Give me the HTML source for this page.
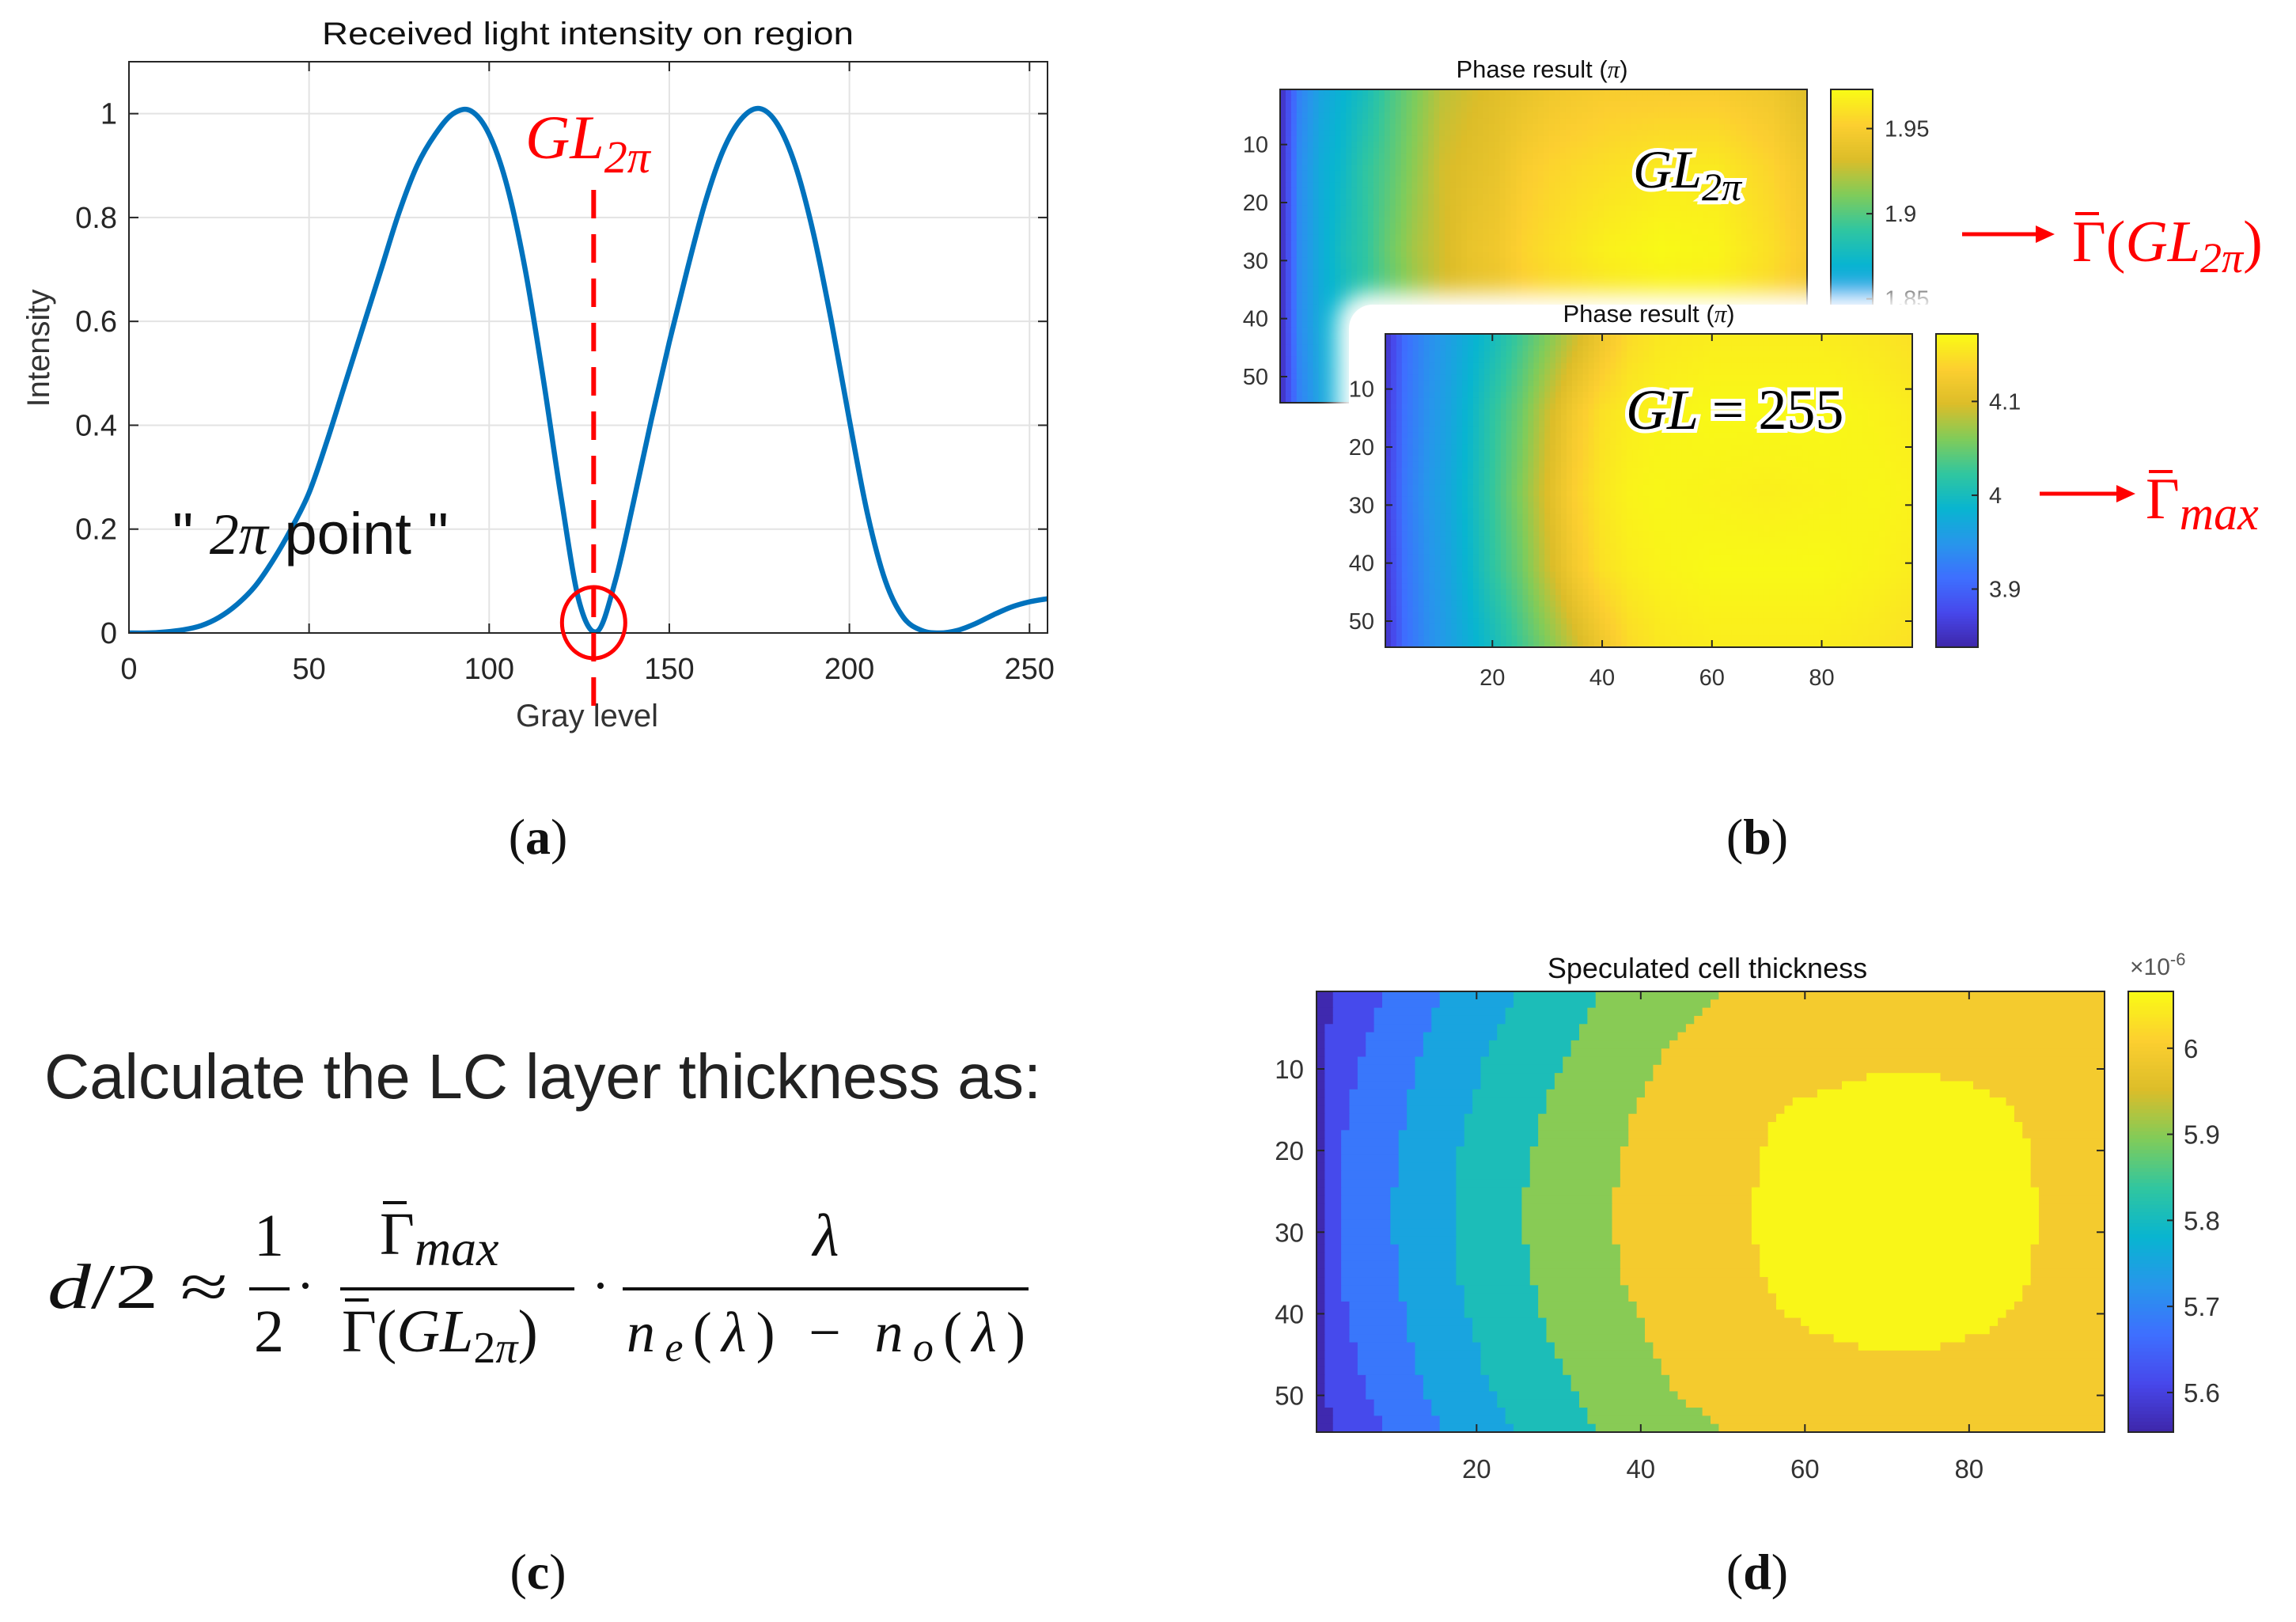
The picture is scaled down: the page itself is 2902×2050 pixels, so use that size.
<!DOCTYPE html>
<html><head><meta charset="utf-8"><style>
html,body{margin:0;padding:0;background:#fff;}
svg{display:block;}
text{font-family:"Liberation Sans",sans-serif;}
.serif{font-family:"Liberation Serif",serif;}
</style></head>
<body>
<svg id="fig" width="2902" height="2050" viewBox="0 0 2902 2050" xmlns="http://www.w3.org/2000/svg">
<defs>
  <filter id="glowBlur" x="-20%" y="-20%" width="140%" height="140%"><feGaussianBlur stdDeviation="14"/></filter>
  <clipPath id="clipA"><rect x="163" y="78" width="1161" height="722"/></clipPath>
</defs>
<g id="panelA"></g>
<g id="panelB"></g>
<g id="panelC">
  <text x="56" y="1388" font-size="80" fill="#222" textLength="1260" lengthAdjust="spacingAndGlyphs">Calculate the LC layer thickness as:</text>
  <text class="serif" x="60" y="1653" font-size="80" font-style="italic" fill="#111" textLength="228" lengthAdjust="spacingAndGlyphs">d<tspan font-style="normal">/2 ≈</tspan></text>
  <text class="serif" x="340" y="1587" font-size="76" text-anchor="middle" fill="#111">1</text>
  <line x1="315" y1="1629" x2="366" y2="1629" stroke="#111" stroke-width="4"/>
  <text class="serif" x="340" y="1708" font-size="76" text-anchor="middle" fill="#111">2</text>
  <circle cx="386" cy="1625" r="4" fill="#111"/>
  <text class="serif" x="480" y="1585" font-size="76" fill="#111">Γ<tspan font-style="italic" font-size="64" dy="14">max</tspan></text>
  <line x1="484" y1="1520" x2="514" y2="1520" stroke="#111" stroke-width="4"/>
  <line x1="430" y1="1629" x2="726" y2="1629" stroke="#111" stroke-width="4"/>
  <text class="serif" x="432" y="1708" font-size="76" fill="#111">Γ(<tspan font-style="italic">GL</tspan><tspan font-size="56" dy="14">2</tspan><tspan font-size="56" font-style="italic">π</tspan><tspan dy="-14">)</tspan></text>
  <line x1="436" y1="1643" x2="466" y2="1643" stroke="#111" stroke-width="4"/>
  <circle cx="759" cy="1625" r="4" fill="#111"/>
  <text class="serif" x="1044" y="1587" font-size="76" font-style="italic" text-anchor="middle" fill="#111">λ</text>
  <line x1="787" y1="1629" x2="1300" y2="1629" stroke="#111" stroke-width="4"/>
  <text class="serif" x="792" y="1708" font-size="72" fill="#111" textLength="504" lengthAdjust="spacing"><tspan font-style="italic">n</tspan><tspan font-style="italic" font-size="52" dy="12">e</tspan><tspan dy="-12">(</tspan><tspan font-style="italic">λ</tspan>) − <tspan font-style="italic">n</tspan><tspan font-style="italic" font-size="52" dy="12">o</tspan><tspan dy="-12">(</tspan><tspan font-style="italic">λ</tspan>)</text>
</g>
<g id="panelD"></g>
<g>
  <text class="serif" x="680" y="1079" font-size="64" text-anchor="middle" fill="#111">(<tspan font-weight="bold">a</tspan>)</text>
  <text class="serif" x="2221" y="1079" font-size="64" text-anchor="middle" fill="#111">(<tspan font-weight="bold">b</tspan>)</text>
  <text class="serif" x="680" y="2008" font-size="64" text-anchor="middle" fill="#111">(<tspan font-weight="bold">c</tspan>)</text>
  <text class="serif" x="2221" y="2008" font-size="64" text-anchor="middle" fill="#111">(<tspan font-weight="bold">d</tspan>)</text>
</g>
</svg>
<script>
// ---------- Panel A data ----------
const grayLevels = [0,5,10,15,20,25,30,35,40,45,50,55,60,65,70,75,80,85,90,95,100,105,110,115,120,125,130,135,140,145,150,155,160,165,170,175,180,185,190,195,200,205,210,215,220,225,230,235,240,245,250,255];
const intensity  = [0,0,0.002,0.006,0.014,0.03,0.055,0.09,0.14,0.2,0.27,0.37,0.48,0.59,0.7,0.81,0.9,0.96,1.0,1.005,0.96,0.86,0.7,0.49,0.26,0.06,0.003,0.1,0.25,0.41,0.56,0.7,0.83,0.93,0.99,1.01,0.98,0.9,0.77,0.6,0.41,0.23,0.1,0.03,0.005,0,0.005,0.018,0.035,0.05,0.06,0.066];
const xTicksA = [0,50,100,150,200,250];
const yTicksA = [0,0.2,0.4,0.6,0.8,1];
const yTickLabelsA = ["0","0.2","0.4","0.6","0.8","1"];
const gl2pi = 129;

// ---------- Panel B data (phase, in pi) ----------
const sampleRowsB = [1,14,28,41,54];
const sampleColsB = [1,4,8,12,16,20,25,30,35,40,45,50,60,70,80,90,96];
const phaseTopRow1  = [1.80,1.84,1.86,1.87,1.88,1.895,1.91,1.925,1.93,1.935,1.94,1.945,1.95,1.95,1.95,1.945,1.935];
const phaseTopRow14 = [1.80,1.845,1.865,1.875,1.89,1.90,1.915,1.93,1.935,1.94,1.95,1.955,1.96,1.965,1.965,1.955,1.945];
const phaseTopRow28 = [1.80,1.845,1.865,1.88,1.89,1.905,1.92,1.93,1.94,1.945,1.955,1.96,1.968,1.972,1.97,1.96,1.95];
const phaseTopRow41 = [1.80,1.845,1.865,1.875,1.89,1.90,1.915,1.93,1.935,1.94,1.95,1.955,1.96,1.965,1.965,1.955,1.945];
const phaseTopRow54 = [1.80,1.84,1.86,1.87,1.88,1.895,1.91,1.925,1.93,1.935,1.94,1.945,1.95,1.95,1.95,1.945,1.935];
const phaseBotRow1  = [3.86,3.91,3.94,3.96,3.98,4.0,4.03,4.06,4.09,4.12,4.145,4.155,4.16,4.16,4.16,4.155,4.15];
const phaseBotRow14 = [3.865,3.915,3.945,3.965,3.99,4.02,4.05,4.09,4.125,4.15,4.16,4.165,4.17,4.17,4.17,4.165,4.16];
const phaseBotRow28 = [3.87,3.92,3.95,3.97,3.995,4.025,4.06,4.1,4.135,4.155,4.165,4.168,4.165,4.162,4.165,4.168,4.165];
const phaseBotRow41 = [3.865,3.915,3.945,3.965,3.99,4.02,4.05,4.09,4.125,4.15,4.16,4.165,4.17,4.17,4.17,4.165,4.16];
const phaseBotRow54 = [3.86,3.91,3.94,3.96,3.98,4.0,4.03,4.06,4.09,4.12,4.145,4.155,4.16,4.16,4.16,4.155,4.15];
const topCbTicks = [1.95,1.9,1.85];
const botCbTicks = [4.1,4.0,3.9];
const botCbLabels = ["4.1","4","3.9"];
const rowTicks = [10,20,30,40,50];
const colTicks = [20,40,60,80];

// ---------- Panel D data (thickness, x1e-6) ----------
const bandValues = [5.56,5.615,5.68,5.75,5.81,5.9,5.995,6.06];
const boundaryRows = [1,7,14,21,28,35,42,49,54];
const boundary1 = [3,2,2,2,2,2,2,2,3];
const boundary2 = [9,7,5,4,4,4,5,7,9];
const boundary3 = [16,14,12,11,10,11,12,14,16];
const boundary4 = [25,22,20,18,18,18,20,22,25];
const boundary5 = [35,32,29,27,26,27,29,32,35];
const boundary6 = [50,44,40,38,37,38,41,44,50];
const yellowRows  = [11,12,14,17,21,28,35,39,42,44];
const yellowStart = [68,65,59,56,55,54,55,57,61,67];
const yellowEnd   = [76,80,84,86,87,88,87,85,82,76];
const dCbTicks = [6.0,5.9,5.8,5.7,5.6];
const dCbLabels = ["6","5.9","5.8","5.7","5.6"];

const NS = "http://www.w3.org/2000/svg";
function mk(parent, tag, attrs, txt){
  const e = document.createElementNS(NS, tag);
  for (const k in attrs) e.setAttribute(k, attrs[k]);
  if (txt !== undefined) e.textContent = txt;
  parent.appendChild(e);
  return e;
}
const PAR = [[62,38,168],[71,71,235],[62,111,255],[39,150,235],[8,181,208],[49,198,159],[129,204,89],[220,189,41],[252,207,48],[249,251,21]];
function parula(f){
  f = Math.max(0, Math.min(1, f));
  const p = f*(PAR.length-1), i = Math.min(PAR.length-2, Math.floor(p)), t = p-i;
  const a = PAR[i], b = PAR[i+1];
  return `rgb(${Math.round(a[0]+(b[0]-a[0])*t)},${Math.round(a[1]+(b[1]-a[1])*t)},${Math.round(a[2]+(b[2]-a[2])*t)})`;
}

// ================= PANEL A =================
(function(){
  const g = document.getElementById('panelA');
  const L=163,R=1324,T=78,B=800, xmax=255, ymax=1.1;
  const xs = v => L + v/xmax*(R-L);
  const ys = v => B - v/ymax*(B-T);
  let el = mk(g,'rect',{x:L,y:T,width:R-L,height:B-T,fill:'#fff'});
   
  xTicksA.forEach(v=>{ if(v>0){ const l=mk(g,'line',{x1:xs(v),x2:xs(v),y1:T,y2:B,stroke:'#e3e3e3','stroke-width':2});
      }});
  yTicksA.forEach(v=>{ if(v>0){ const l=mk(g,'line',{x1:L,x2:R,y1:ys(v),y2:ys(v),stroke:'#e3e3e3','stroke-width':2});
      }});
  const P = grayLevels.map((x,i)=>[xs(x),ys(intensity[i])]);
  let d = `M${P[0][0]},${P[0][1]}`;
  for(let i=0;i<P.length-1;i++){
    const p0=P[Math.max(0,i-1)],p1=P[i],p2=P[i+1],p3=P[Math.min(P.length-1,i+2)];
    const c1=[p1[0]+(p2[0]-p0[0])/6,p1[1]+(p2[1]-p0[1])/6], c2=[p2[0]-(p3[0]-p1[0])/6,p2[1]-(p3[1]-p1[1])/6];
    d+=` C${c1[0]},${c1[1]} ${c2[0]},${c2[1]} ${p2[0]},${p2[1]}`;
  }
  el = mk(g,'path',{d:d,fill:'none',stroke:'#0072BD','stroke-width':6.5,'stroke-linejoin':'round','clip-path':'url(#clipA)'});
   
  el = mk(g,'rect',{x:L,y:T,width:R-L,height:B-T,fill:'none',stroke:'#262626','stroke-width':2});
   
  xTicksA.forEach(v=>{
    mk(g,'line',{x1:xs(v),x2:xs(v),y1:B,y2:B-12,stroke:'#262626','stroke-width':2});
    mk(g,'line',{x1:xs(v),x2:xs(v),y1:T,y2:T+12,stroke:'#262626','stroke-width':2});
    const t=mk(g,'text',{x:xs(v),y:858,'font-size':38,'text-anchor':'middle',fill:'#262626'},String(v));
     
  });
  yTicksA.forEach((v,i)=>{
    mk(g,'line',{x1:L,x2:L+12,y1:ys(v),y2:ys(v),stroke:'#262626','stroke-width':2});
    mk(g,'line',{x1:R,x2:R-12,y1:ys(v),y2:ys(v),stroke:'#262626','stroke-width':2});
    const t=mk(g,'text',{x:148,y:ys(v)+13,'font-size':38,'text-anchor':'end',fill:'#262626'},yTickLabelsA[i]);
     
  });
  el=mk(g,'text',{x:743,y:56,'font-size':40,'text-anchor':'middle',fill:'#111',textLength:672,lengthAdjust:'spacingAndGlyphs'},'Received light intensity on region');
   
  el=mk(g,'text',{x:742,y:918,'font-size':40,'text-anchor':'middle',fill:'#333'},'Gray level');
   
  el=mk(g,'text',{x:0,y:0,'font-size':40,'text-anchor':'middle',fill:'#333',transform:'translate(62,440) rotate(-90)'},'Intensity');
   
  const xg = xs(gl2pi);
  el=mk(g,'line',{x1:xg,x2:xg,y1:240,y2:900,stroke:'#ff0000','stroke-width':6,'stroke-dasharray':'36,20'});
   
  el=mk(g,'ellipse',{cx:xg,cy:787,rx:40,ry:45,fill:'none',stroke:'#ff0000','stroke-width':5});
   
  el=mk(g,'text',{x:664,y:200,'font-size':78,fill:'#ff0000','font-style':'italic',class:'serif'});
  el.innerHTML='GL<tspan font-size="58" dy="18">2π</tspan>';
   
  el=mk(g,'text',{x:218,y:700,'font-size':74,fill:'#111'});
  el.innerHTML='" <tspan class="serif" font-style="italic">2π</tspan>  point "';
  el.setAttribute('xml:space','preserve');
   
})();

// ================= PANEL B =================
function lerpGrid(rowsS, colsS, grid, r, c){
  let i=0; while(i<rowsS.length-2 && r>rowsS[i+1]) i++;
  let j=0; while(j<colsS.length-2 && c>colsS[j+1]) j++;
  const tr=(r-rowsS[i])/(rowsS[i+1]-rowsS[i]), tc=(c-colsS[j])/(colsS[j+1]-colsS[j]);
  const a=grid[i][j]+(grid[i][j+1]-grid[i][j])*tc, b=grid[i+1][j]+(grid[i+1][j+1]-grid[i+1][j])*tc;
  return a+(b-a)*tr;
}
function smoothHeat(parent, x0,y0,w,h, grid, vmin, vmax, name){
  const cg = mk(parent,'g',{});
   
  const cw=w/96, rh=h/54;
  for(let r=1;r<=54;r++) for(let c=1;c<=96;c++){
    const v=lerpGrid(sampleRowsB,sampleColsB,grid,r,c);
    const rect=mk(cg,'rect',{x:(x0+(c-1)*cw).toFixed(2),y:(y0+(r-1)*rh).toFixed(2),width:(cw+0.7).toFixed(2),height:(rh+0.7).toFixed(2),fill:parula((v-vmin)/(vmax-vmin))});
     
  }
  mk(parent,'rect',{x:x0,y:y0,width:w,height:h,fill:'none',stroke:'#262626','stroke-width':2});
}
function colorbar(parent,x,y,w,h,vmin,vmax,name){
  const cg=mk(parent,'g',{});  
  const n=120;
  for(let i=0;i<n;i++){ mk(cg,'rect',{x:x,y:(y+h-(i+1)*h/n).toFixed(2),width:w,height:(h/n+0.6).toFixed(2),fill:parula((i+0.5)/n)}); }
  mk(parent,'rect',{x:x,y:y,width:w,height:h,fill:'none',stroke:'#262626','stroke-width':2});
}
(function(){
  const g=document.getElementById('panelB');
  const TX=1618,TY=113,TW=666,TH=396, tmin=1.789, tmax=1.973;
  const topGrid=[phaseTopRow1,phaseTopRow14,phaseTopRow28,phaseTopRow41,phaseTopRow54];
  smoothHeat(g,TX,TY,TW,TH,topGrid,tmin,tmax,'phase-heatmap-gl2pi');
  rowTicks.forEach(v=>{ const yy=TY+(v-0.5)*TH/54;
    mk(g,'line',{x1:TX,x2:TX+9,y1:yy,y2:yy,stroke:'#262626','stroke-width':2});
    const t=mk(g,'text',{x:1603,y:yy+10,'font-size':29,'text-anchor':'end',fill:'#333'},String(v));
      });
  let el=mk(g,'text',{x:1949,y:98,'font-size':31,'text-anchor':'middle',fill:'#111'});
  el.innerHTML='Phase result (<tspan class="serif" font-style="italic">π</tspan>)';
   
  const CX=2314,CW=53;
  colorbar(g,CX,TY,CW,TH,tmin,tmax,'top-colorbar');
  topCbTicks.forEach(v=>{ const yy=TY+TH-(v-tmin)/(tmax-tmin)*TH;
    mk(g,'line',{x1:CX+CW,x2:CX+CW-8,y1:yy,y2:yy,stroke:'#262626','stroke-width':2});
    const t=mk(g,'text',{x:2382,y:yy+10,'font-size':29,fill:'#333'},String(v));
      });
  el=mk(g,'text',{x:2064,y:237,'font-size':68,'font-style':'italic',fill:'#000',stroke:'#fff','stroke-width':10,'paint-order':'stroke',class:'serif'});
  el.innerHTML='GL<tspan font-size="50" dy="16">2π</tspan>';
   
  el=mk(g,'rect',{x:1690,y:370,width:900,height:560,rx:40,fill:'#fff',filter:'url(#glowBlur)'});
   
  mk(g,'rect',{x:1705,y:385,width:860,height:520,rx:30,fill:'#fff'});
  const BX=1751,BY=422,BW=666,BH=396,bmin=3.838,bmax=4.172;
  const botGrid=[phaseBotRow1,phaseBotRow14,phaseBotRow28,phaseBotRow41,phaseBotRow54];
  smoothHeat(g,BX,BY,BW,BH,botGrid,bmin,bmax,'phase-heatmap-gl255');
  rowTicks.forEach(v=>{ const yy=BY+(v-0.5)*BH/54;
    mk(g,'line',{x1:BX,x2:BX+9,y1:yy,y2:yy,stroke:'#262626','stroke-width':2});
    mk(g,'line',{x1:BX+BW,x2:BX+BW-9,y1:yy,y2:yy,stroke:'#262626','stroke-width':2});
    const t=mk(g,'text',{x:1737,y:yy+10,'font-size':29,'text-anchor':'end',fill:'#333'},String(v));
      });
  colTicks.forEach(v=>{ const xx=BX+(v-0.5)*BW/96;
    mk(g,'line',{x1:xx,x2:xx,y1:BY+BH,y2:BY+BH-9,stroke:'#262626','stroke-width':2});
    mk(g,'line',{x1:xx,x2:xx,y1:BY,y2:BY+9,stroke:'#262626','stroke-width':2});
    const t=mk(g,'text',{x:xx,y:866,'font-size':29,'text-anchor':'middle',fill:'#333'},String(v));
      });
  el=mk(g,'text',{x:2084,y:407,'font-size':31,'text-anchor':'middle',fill:'#111'});
  el.innerHTML='Phase result (<tspan class="serif" font-style="italic">π</tspan>)';
   
  const CX2=2447;
  colorbar(g,CX2,BY,CW,BH,bmin,bmax,'bottom-colorbar');
  botCbTicks.forEach((v,i)=>{ const yy=BY+BH-(v-bmin)/(bmax-bmin)*BH;
    mk(g,'line',{x1:CX2+CW,x2:CX2+CW-8,y1:yy,y2:yy,stroke:'#262626','stroke-width':2});
    const t=mk(g,'text',{x:2514,y:yy+10,'font-size':29,fill:'#333'},botCbLabels[i]);
      });
  el=mk(g,'text',{x:2055,y:542,'font-size':72,'font-style':'italic',fill:'#000',stroke:'#fff','stroke-width':10,'paint-order':'stroke',class:'serif'});
  el.innerHTML='GL <tspan font-style="normal">= 255</tspan>';
   
  function arrow(x1,x2,y,name){
    const a=mk(g,'g',{});  
    mk(a,'line',{x1:x1,x2:x2-20,y1:y,y2:y,stroke:'#ff0000','stroke-width':5});
    mk(a,'polygon',{points:`${x2},${y} ${x2-24},${y-11} ${x2-24},${y+11}`,fill:'#ff0000'});
  }
  arrow(2480,2597,296,'arrow-gamma-gl2pi');
  arrow(2578,2699,624,'arrow-gamma-max');
  el=mk(g,'text',{x:2619,y:330,'font-size':74,fill:'#ff0000',class:'serif'});
  el.innerHTML='Γ(<tspan font-style="italic">GL</tspan><tspan font-size="54" dy="14" font-style="italic">2π</tspan><tspan dy="-14">)</tspan>';
   
  mk(g,'line',{x1:2623,x2:2653,y1:270,y2:270,stroke:'#ff0000','stroke-width':4});
  el=mk(g,'text',{x:2712,y:655,'font-size':74,fill:'#ff0000',class:'serif'});
  el.innerHTML='Γ<tspan font-size="60" dy="14" font-style="italic">max</tspan>';
   
  mk(g,'line',{x1:2716,x2:2746,y1:596,y2:596,stroke:'#ff0000','stroke-width':4});
})();

// ================= PANEL D =================
(function(){
  const g=document.getElementById('panelD');
  const X=1664,Y=1253,W=996,H=557, vmin=5.554, vmax=6.066;
  const cw=W/96, rh=H/54;
  const bounds=[boundary1,boundary2,boundary3,boundary4,boundary5,boundary6];
  function interpRow(arrRows, arr, r){
    let i=0; while(i<arrRows.length-2 && r>arrRows[i+1]) i++;
    const t=(r-arrRows[i])/(arrRows[i+1]-arrRows[i]);
    return Math.round(arr[i]+(arr[i+1]-arr[i])*Math.max(0,Math.min(1,t)));
  }
  const cg=mk(g,'g',{});  
  for(let r=1;r<=54;r++){
    const b=bounds.map(a=>interpRow(boundaryRows,a,r));
    let ys=-1,ye=-1;
    if(r>=yellowRows[0] && r<=yellowRows[yellowRows.length-1]){ ys=interpRow(yellowRows,yellowStart,r); ye=interpRow(yellowRows,yellowEnd,r); }
    let runStart=1, runBand=-1;
    const bandOf=c=>{ if(ys>0 && c>=ys && c<=ye) return 7; let k=0; while(k<6 && c>=b[k]) k++; return k; };
    for(let c=1;c<=97;c++){
      const k = c<=96 ? bandOf(c) : -2;
      if(c===1){runBand=k;runStart=1;continue;}
      if(k!==runBand){
        const rect=mk(cg,'rect',{x:(X+(runStart-1)*cw).toFixed(2),y:(Y+(r-1)*rh).toFixed(2),width:((c-runStart)*cw+0.6).toFixed(2),height:(rh+0.6).toFixed(2),fill:parula((bandValues[runBand]-vmin)/(vmax-vmin))});
        
        
        runBand=k; runStart=c;
      }
    }
  }
  mk(g,'rect',{x:X,y:Y,width:W,height:H,fill:'none',stroke:'#262626','stroke-width':2});
  rowTicks.forEach(v=>{ const yy=Y+(v-0.5)*rh;
    mk(g,'line',{x1:X,x2:X+10,y1:yy,y2:yy,stroke:'#262626','stroke-width':2});
    mk(g,'line',{x1:X+W,x2:X+W-10,y1:yy,y2:yy,stroke:'#262626','stroke-width':2});
    const t=mk(g,'text',{x:1648,y:yy+12,'font-size':33,'text-anchor':'end',fill:'#333'},String(v));
      });
  colTicks.forEach(v=>{ const xx=X+(v-0.5)*cw;
    mk(g,'line',{x1:xx,x2:xx,y1:Y+H,y2:Y+H-10,stroke:'#262626','stroke-width':2});
    mk(g,'line',{x1:xx,x2:xx,y1:Y,y2:Y+10,stroke:'#262626','stroke-width':2});
    const t=mk(g,'text',{x:xx,y:1868,'font-size':33,'text-anchor':'middle',fill:'#333'},String(v));
      });
  let el=mk(g,'text',{x:2158,y:1236,'font-size':36,'text-anchor':'middle',fill:'#111'},'Speculated cell thickness');
   
  const CX=2690,CW=57;
  colorbar(g,CX,Y,CW,H,vmin,vmax,'thickness-colorbar');
  dCbTicks.forEach((v,i)=>{ const yy=Y+H-(v-vmin)/(vmax-vmin)*H;
    mk(g,'line',{x1:CX+CW,x2:CX+CW-8,y1:yy,y2:yy,stroke:'#262626','stroke-width':2});
    const t=mk(g,'text',{x:2760,y:yy+12,'font-size':33,fill:'#333'},dCbLabels[i]);
      });
  el=mk(g,'text',{x:2692,y:1232,'font-size':30,fill:'#555'});
  el.innerHTML='×10<tspan font-size="22" dy="-12">-6</tspan>';
   
})();
</script>
</body></html>
